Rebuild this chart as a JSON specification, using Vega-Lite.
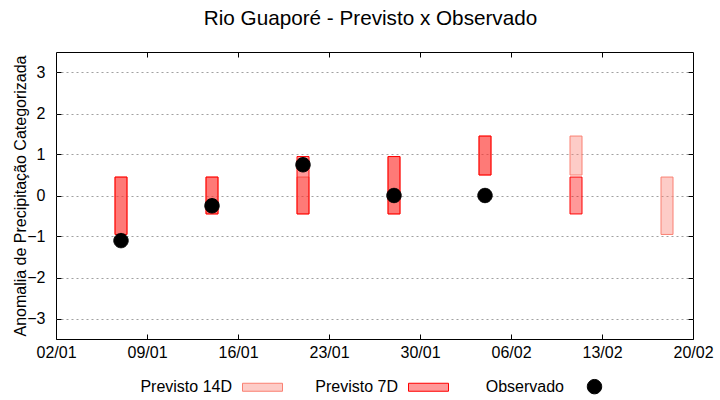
{
  "$schema": "https://vega.github.io/schema/vega-lite/v6.json",
  "width": 637,
  "height": 287,
  "autosize": {"type": "none"},
  "padding": {"left": 56, "top": 52, "right": 27, "bottom": 61},
  "title": {
    "text": "Rio Guaporé - Previsto x Observado",
    "font": "Liberation Sans",
    "fontSize": 20.7,
    "fontWeight": "normal",
    "color": "black",
    "offset": 22,
    "dx": -4
  },
  "config": {
    "font": "Liberation Sans",
    "view": {"stroke": "black", "strokeWidth": 1},
    "axis": {
      "domain": false,
      "labelFont": "Liberation Sans",
      "labelFontSize": 16,
      "labelColor": "black",
      "labelFlush": false,
      "tickColor": "black",
      "tickWidth": 1,
      "titleFont": "Liberation Sans",
      "titleFontWeight": "normal",
      "titleColor": "black"
    },
    "legend": {
      "labelFont": "Liberation Sans",
      "labelFontSize": 16,
      "labelColor": "black"
    }
  },
  "data": {
    "values": [
      {"data": "2022-01-07", "serie": "Previsto 14D", "lo": -0.95, "hi": 0.45},
      {"data": "2022-01-14", "serie": "Previsto 14D", "lo": -0.45, "hi": 0.45},
      {"data": "2022-01-21", "serie": "Previsto 14D", "lo": -0.45, "hi": 0.45},
      {"data": "2022-01-28", "serie": "Previsto 14D", "lo": -0.45, "hi": 0.95},
      {"data": "2022-02-04", "serie": "Previsto 14D", "lo": 0.5, "hi": 1.45},
      {"data": "2022-02-11", "serie": "Previsto 14D", "lo": 0.5, "hi": 1.45},
      {"data": "2022-02-18", "serie": "Previsto 14D", "lo": -0.95, "hi": 0.45},
      {"data": "2022-01-07", "serie": "Previsto 7D", "lo": -0.95, "hi": 0.45},
      {"data": "2022-01-14", "serie": "Previsto 7D", "lo": -0.45, "hi": 0.45},
      {"data": "2022-01-21", "serie": "Previsto 7D", "lo": -0.45, "hi": 0.95},
      {"data": "2022-01-28", "serie": "Previsto 7D", "lo": -0.45, "hi": 0.95},
      {"data": "2022-02-04", "serie": "Previsto 7D", "lo": 0.5, "hi": 1.45},
      {"data": "2022-02-11", "serie": "Previsto 7D", "lo": -0.45, "hi": 0.45},
      {"data": "2022-01-07", "serie": "Observado", "valor": -1.1},
      {"data": "2022-01-14", "serie": "Observado", "valor": -0.25},
      {"data": "2022-01-21", "serie": "Observado", "valor": 0.75},
      {"data": "2022-01-28", "serie": "Observado", "valor": 0.0},
      {"data": "2022-02-04", "serie": "Observado", "valor": 0.0}
    ]
  },
  "layer": [
    {
      "transform": [{"filter": "datum.serie == 'Previsto 14D'"}],
      "mark": {"type": "bar", "width": 12, "strokeWidth": 1},
      "encoding": {
        "x": {
          "field": "data",
          "type": "temporal",
          "scale": {"type": "utc", "padding": 0, "domain": [{"year": 2022, "month": 1, "date": 2, "utc": true}, {"year": 2022, "month": 2, "date": 20, "utc": true}]},
          "axis": {
            "orient": "bottom",
            "title": null,
            "format": "%d/%m",
            "grid": false,
            "tickSize": -5,
            "labelPadding": 10,
            "values": [
              {"year": 2022, "month": 1, "date": 2, "utc": true},
              {"year": 2022, "month": 1, "date": 9, "utc": true},
              {"year": 2022, "month": 1, "date": 16, "utc": true},
              {"year": 2022, "month": 1, "date": 23, "utc": true},
              {"year": 2022, "month": 1, "date": 30, "utc": true},
              {"year": 2022, "month": 2, "date": 6, "utc": true},
              {"year": 2022, "month": 2, "date": 13, "utc": true},
              {"year": 2022, "month": 2, "date": 20, "utc": true}
            ]
          }
        },
        "y": {
          "field": "lo",
          "type": "quantitative",
          "scale": {"domain": [-3.5, 3.5], "nice": false, "zero": false},
          "axis": {
            "orient": "left",
            "title": "Anomalia de Precipitação Categorizada",
            "titleFontSize": 16,
            "titlePadding": -2,
            "values": [-3, -2, -1, 0, 1, 2, 3],
            "tickSize": -5,
            "labelPadding": 16,
            "grid": true,
            "gridColor": "#a0a0a0",
            "gridDash": [2, 3],
            "gridWidth": 1
          }
        },
        "y2": {"field": "hi"},
        "fill": {
          "field": "serie",
          "type": "nominal",
          "scale": {"domain": ["Previsto 14D", "Previsto 7D", "Observado"], "range": ["rgba(250,128,114,0.4)", "rgba(255,0,0,0.4)", "black"]},
          "legend": {
            "title": null,
            "orient": "none",
            "direction": "horizontal",
            "legendX": 86,
            "legendY": 314,
            "symbolSize": 1600,
            "symbolStrokeWidth": 1,
            "symbolOffset": 100,
            "labelAlign": "right",
            "labelOffset": -51,
            "columnPadding": 23
          }
        },
        "stroke": {
          "field": "serie",
          "type": "nominal",
          "scale": {"domain": ["Previsto 14D", "Previsto 7D", "Observado"], "range": ["#fa8072", "#ff0000", "black"]},
          "legend": {
            "title": null,
            "orient": "none",
            "direction": "horizontal",
            "legendX": 86,
            "legendY": 314,
            "symbolSize": 1600,
            "symbolStrokeWidth": 1,
            "symbolOffset": 100,
            "labelAlign": "right",
            "labelOffset": -51,
            "columnPadding": 23
          }
        }
      }
    },
    {
      "transform": [{"filter": "datum.serie == 'Previsto 7D'"}],
      "mark": {"type": "bar", "width": 12, "strokeWidth": 1},
      "encoding": {
        "x": {"field": "data", "type": "temporal", "axis": null},
        "y": {"field": "lo", "type": "quantitative", "axis": null},
        "y2": {"field": "hi"},
        "fill": {"field": "serie", "type": "nominal"},
        "stroke": {"field": "serie", "type": "nominal"}
      }
    },
    {
      "transform": [{"filter": "datum.serie == 'Observado'"}],
      "mark": {"type": "point", "filled": true, "size": 1600, "strokeWidth": 1, "opacity": 1},
      "encoding": {
        "x": {
          "field": "data",
          "type": "temporal",
          "axis": {
            "orient": "top",
            "title": null,
            "labels": false,
            "grid": false,
            "tickSize": -5,
            "values": [
              {"year": 2022, "month": 1, "date": 9, "utc": true},
              {"year": 2022, "month": 1, "date": 16, "utc": true},
              {"year": 2022, "month": 1, "date": 23, "utc": true},
              {"year": 2022, "month": 1, "date": 30, "utc": true},
              {"year": 2022, "month": 2, "date": 6, "utc": true},
              {"year": 2022, "month": 2, "date": 13, "utc": true}
            ]
          }
        },
        "y": {
          "field": "valor",
          "type": "quantitative",
          "axis": {
            "orient": "right",
            "title": null,
            "labels": false,
            "grid": false,
            "tickSize": -5,
            "values": [-3, -2, -1, 0, 1, 2, 3]
          }
        },
        "fill": {"field": "serie", "type": "nominal"},
        "stroke": {"field": "serie", "type": "nominal"},
        "shape": {
          "field": "serie",
          "type": "nominal",
          "scale": {
            "domain": ["Previsto 14D", "Previsto 7D", "Observado"],
            "range": ["M-1,-0.2L1,-0.2L1,0.2L-1,0.2Z", "M-1,-0.2L1,-0.2L1,0.2L-1,0.2Z", "M0.36,0A0.36,0.36 0 1,1 -0.36,0A0.36,0.36 0 1,1 0.36,0Z"]
          },
          "legend": {
            "title": null,
            "orient": "none",
            "direction": "horizontal",
            "legendX": 86,
            "legendY": 314,
            "symbolSize": 1600,
            "symbolStrokeWidth": 1,
            "symbolOffset": 100,
            "labelAlign": "right",
            "labelOffset": -51,
            "columnPadding": 23
          }
        }
      }
    }
  ],
  "resolve": {"axis": {"x": "independent", "y": "independent"}}
}
